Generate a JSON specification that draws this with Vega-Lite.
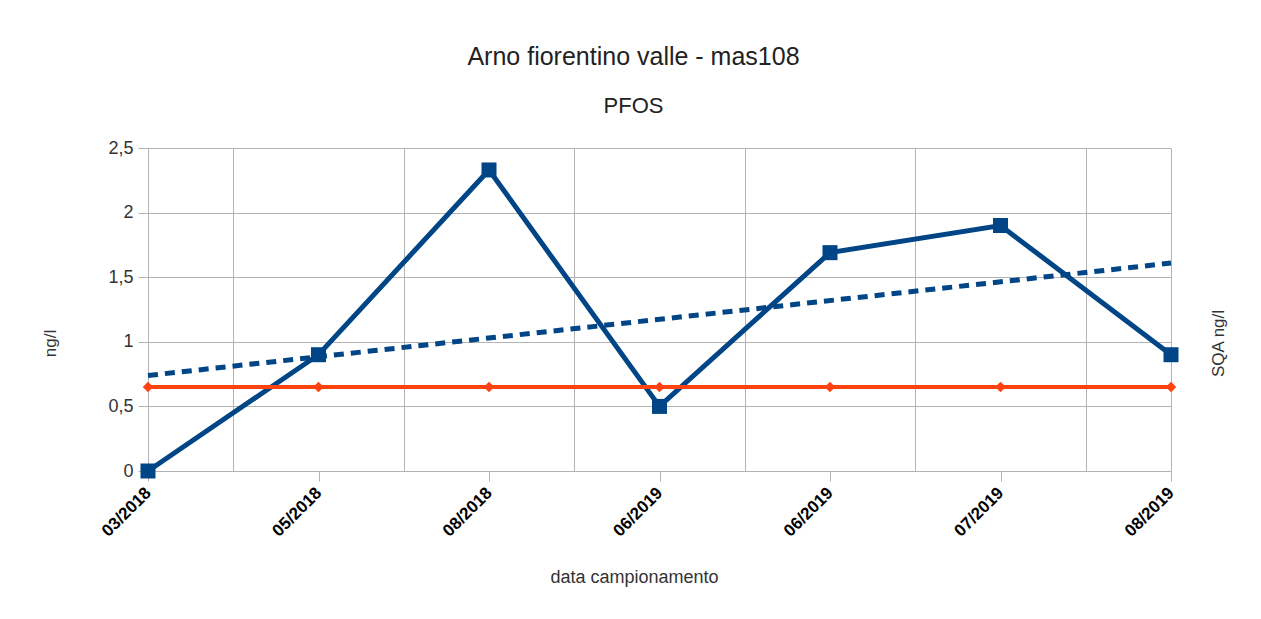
{
  "$schema": "https://vega.github.io/schema/vega-lite/v6.json",
  "width": 1023,
  "height": 323,
  "autosize": {"type": "none"},
  "padding": {"left": 148, "top": 148, "right": 90, "bottom": 148},
  "background": "white",
  "config": {"font": "Liberation Sans", "view": {"stroke": null}},
  "title": {
    "text": "Arno fiorentino valle - mas108",
    "subtitle": "PFOS",
    "fontSize": 25,
    "subtitleFontSize": 22,
    "fontWeight": "normal",
    "color": "#222222",
    "subtitleColor": "#222222",
    "anchor": "middle",
    "frame": "group",
    "dx": -26,
    "offset": 22,
    "subtitlePadding": 26
  },
  "data": {
    "values": [
      {"i": 0, "campione": "03/2018#1", "valore": 0, "sqa": 0.65},
      {"i": 1, "campione": "05/2018#2", "valore": 0.9, "sqa": 0.65},
      {"i": 2, "campione": "08/2018#3", "valore": 2.33, "sqa": 0.65},
      {"i": 3, "campione": "06/2019#4", "valore": 0.5, "sqa": 0.65},
      {"i": 4, "campione": "06/2019#5", "valore": 1.69, "sqa": 0.65},
      {"i": 5, "campione": "07/2019#6", "valore": 1.9, "sqa": 0.65},
      {"i": 6, "campione": "08/2019#7", "valore": 0.9, "sqa": 0.65}
    ]
  },
  "layer": [
    {
      "encoding": {
        "x": {
          "field": "i",
          "type": "quantitative",
          "scale": {"domain": [0, 6], "nice": false, "zero": false},
          "axis": {
            "orient": "bottom",
            "values": [0, 0.5, 1, 1.5, 2, 2.5, 3, 3.5, 4, 4.5, 5, 5.5, 6],
            "labels": false,
            "ticks": false,
            "domain": false,
            "title": null,
            "grid": true,
            "gridColor": "#b3b3b3",
            "gridWidth": 1,
            "gridOpacity": {"condition": {"test": "datum.value % 1 === 0 && datum.value > 0 && datum.value < 6", "value": 0}, "value": 1}
          }
        },
        "y": {
          "field": "valore",
          "type": "quantitative",
          "scale": {"domain": [0, 2.5], "nice": false},
          "axis": {
            "orient": "left",
            "values": [0, 0.5, 1, 1.5, 2, 2.5],
            "labelExpr": "replace(format(datum.value, '~g'), '.', ',')",
            "grid": true,
            "gridColor": "#b3b3b3",
            "domainColor": "#b3b3b3",
            "tickColor": "#b3b3b3",
            "tickSize": 10,
            "labelFontSize": 18,
            "labelColor": "#333333",
            "labelPadding": 5,
            "title": "ng/l",
            "titleFontSize": 17,
            "titleFontWeight": "normal",
            "titleColor": "#333333",
            "titleAngle": 270,
            "titleX": -98,
            "titleY": 195,
            "titleAlign": "center",
            "titleBaseline": "middle"
          }
        }
      },
      "layer": [
        {
          "mark": {"type": "line", "color": "#004586", "strokeWidth": 5,
            "point": {"shape": "square", "size": 225, "filled": true, "color": "#004586", "opacity": 1}}
        },
        {
          "transform": [{"regression": "valore", "on": "i"}],
          "mark": {"type": "line", "color": "#004586", "strokeWidth": 5, "strokeDash": [10, 7]}
        }
      ]
    },
    {
      "mark": {"type": "line", "color": "#ff420e", "strokeWidth": 4,
        "point": {"shape": "diamond", "size": 110, "filled": true, "color": "#ff420e", "opacity": 1}},
      "encoding": {
        "x": {
          "field": "campione",
          "type": "ordinal",
          "sort": {"field": "i"},
          "scale": {"type": "point", "padding": 0},
          "axis": {
            "orient": "bottom",
            "labelExpr": "slice(datum.label, 0, 7)",
            "labelAngle": 315,
            "labelAlign": "right",
            "labelBaseline": "middle",
            "labelFontSize": 17,
            "labelFontWeight": "bold",
            "labelColor": "#000000",
            "labelPadding": 9,
            "labelOverlap": false,
            "tickSize": 10,
            "tickColor": "#b3b3b3",
            "domainColor": "#b3b3b3",
            "grid": false,
            "title": "data campionamento",
            "titleFontSize": 18,
            "titleFontWeight": "normal",
            "titleColor": "#333333",
            "titleX": 486,
            "titleY": 97,
            "titleAlign": "center",
            "titleBaseline": "top"
          }
        },
        "y": {
          "field": "sqa",
          "type": "quantitative",
          "scale": {"domain": [0, 2.5], "nice": false},
          "axis": {
            "orient": "right",
            "labels": false,
            "ticks": false,
            "domain": false,
            "grid": false,
            "title": "SQA ng/l",
            "titleFontSize": 17,
            "titleFontWeight": "normal",
            "titleColor": "#333333",
            "titleAngle": 270,
            "titleX": 47,
            "titleY": 195,
            "titleAlign": "center",
            "titleBaseline": "middle"
          }
        }
      }
    }
  ],
  "resolve": {
    "scale": {"x": "independent", "y": "independent"},
    "axis": {"x": "independent", "y": "independent"}
  }
}
